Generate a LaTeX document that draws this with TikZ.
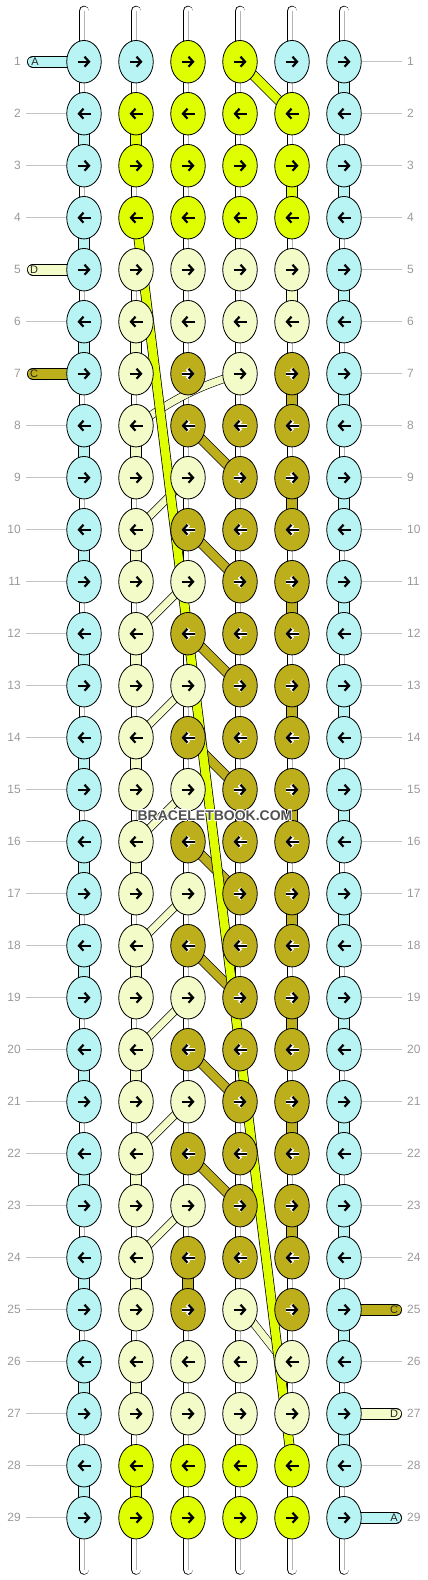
\documentclass[tikz,border=0pt]{standalone}
\usepackage{fontspec}
\setmainfont{Liberation Sans}
\usepackage{contour}
\contourlength{0.7pt}
\usepackage{tikz}
\usetikzlibrary{arrows.meta,shapes.geometric,backgrounds}
\definecolor{strA}{HTML}{B9F4F4}
\definecolor{strB}{HTML}{DFFF00}
\definecolor{strC}{HTML}{BDAF1B}
\definecolor{strD}{HTML}{F3FCC9}
\definecolor{lblGray}{HTML}{9A9A9A}
\definecolor{guideGray}{HTML}{C4C4C4}
\definecolor{pairGray}{HTML}{B4B4B4}
\definecolor{markGray}{HTML}{505050}
\tikzset{
  knot/.style={draw, ellipse, line width=0.8pt, minimum width=34.5pt,
               minimum height=42.5pt, inner sep=0pt},
  strand/.style={draw=black, line width=0.8pt, double=#1, double distance=10.4pt},
  twostrand/.style={draw=black, line width=0.8pt, double=white, double distance=9pt},
  pairmid/.style={draw=pairGray, line width=0.8pt},
  diagstrand/.style={draw=black, line width=0.7pt, double=#1, double distance=8.6pt},
  paleslant/.style={draw=black, line width=0.6pt, double=strD, double distance=7pt},
  arrowbody/.style={line width=2.2pt, -{Straight Barb[length=4.5pt,width=10pt]}},
  arrowhalo/.style={line width=4pt, -{Straight Barb[length=4.5pt,width=10pt]}},
  haloA/.style={draw=strA}, haloB/.style={draw=strB},
  haloC/.style={draw=white}, haloD/.style={draw=strD},
  rowlbl/.style={font=\fontsize{12}{12}\selectfont, text=lblGray, inner sep=0pt},
  guideline/.style={draw=guideGray, line width=0.8pt},
  taillbl/.style={font=\fontsize{11}{11}\selectfont, text=black!85, inner sep=0pt},
}

\begin{document}
\begin{tikzpicture}[x=1pt, y=-1pt]
\useasboundingbox (0,0) rectangle (428,1580);

%% Knots, row by row (odd rows point right, even rows left)
\foreach \r/\knots in {
  1/{A,A,B,B,A,A}, 2/{A,B,B,B,B,A}, 3/{A,B,B,B,B,A}, 4/{A,B,B,B,B,A},
  5/{A,D,D,D,D,A}, 6/{A,D,D,D,D,A}, 7/{A,D,C,D,C,A}, 8/{A,D,C,C,C,A},
  9/{A,D,D,C,C,A}, 10/{A,D,C,C,C,A}, 11/{A,D,D,C,C,A}, 12/{A,D,C,C,C,A},
  13/{A,D,D,C,C,A}, 14/{A,D,C,C,C,A}, 15/{A,D,D,C,C,A}, 16/{A,D,C,C,C,A},
  17/{A,D,D,C,C,A}, 18/{A,D,C,C,C,A}, 19/{A,D,D,C,C,A}, 20/{A,D,C,C,C,A},
  21/{A,D,D,C,C,A}, 22/{A,D,C,C,C,A}, 23/{A,D,D,C,C,A}, 24/{A,D,C,C,C,A},
  25/{A,D,C,D,C,A}, 26/{A,D,D,D,D,A}, 27/{A,D,D,D,D,A}, 28/{A,B,B,B,B,A},
  29/{A,B,B,B,B,A}} {
  \pgfmathsetmacro\ax{6.5*(2*mod(\r,2)-1)}
  \pgfmathsetmacro\bx{-6.5*(2*mod(\r,2)-1)}
  \foreach \s [count=\c] in \knots {
    \node[knot, fill=str\s] (k-\r-\c) at ({32+52*\c}, {9.7+52*\r}) {};
    \draw[arrowhalo, halo\s] ([xshift=\bx pt]k-\r-\c.center) -- ([xshift=\ax pt]k-\r-\c.center);
    \draw[arrowbody] ([xshift=\bx pt]k-\r-\c.center) -- ([xshift=\ax pt]k-\r-\c.center);
  }
}

\begin{scope}[on background layer]
%% Free ends above row 1 and below row 29
\foreach \c in {1,...,6} {
  \coordinate (top-\c) at ({32+52*\c}, 11);
  \coordinate (bot-\c) at ({32+52*\c}, 1569.5);
  \draw[twostrand, line cap=round] (top-\c) -- (k-1-\c.center);
  \draw[pairmid] (top-\c) -- (k-1-\c.center);
  \draw[twostrand, line cap=round] (bot-\c) -- (k-29-\c.center);
  \draw[pairmid] (bot-\c) -- (k-29-\c.center);
}

%% Vertical links (two threads)
\foreach \r in {1,...,28} {
  \pgfmathtruncatemacro\rn{\r+1}
  \foreach \c in {1,...,6} {
    \pgfmathtruncatemacro\code{10*\r+\c}
    \ifnum\code=42 \else\ifnum\code=275 \else
      \draw[twostrand] (k-\r-\c.center) -- (k-\rn-\c.center);
      \draw[pairmid] (k-\r-\c.center) -- (k-\rn-\c.center);
    \fi\fi
  }
}

%% Vertical links (one thread)
\foreach \r [evaluate=\r as \rn using int(\r+1)] in {1,3,...,27}
  \draw[strand=strA] (k-\r-6.center) -- (k-\rn-6.center);
\foreach \r [evaluate=\r as \rn using int(\r+1)] in {2,4,...,28}
  \draw[strand=strA] (k-\r-1.center) -- (k-\rn-1.center);
\foreach \r [evaluate=\r as \rn using int(\r+1)] in {6,8,...,26}
  \draw[strand=strD] (k-\r-2.center) -- (k-\rn-2.center);
\foreach \r [evaluate=\r as \rn using int(\r+1)] in {7,9,...,23}
  \draw[strand=strC] (k-\r-5.center) -- (k-\rn-5.center);
\foreach \r/\c/\s [evaluate=\r as \rn using int(\r+1)] in {2/2/B, 3/5/B, 28/2/B, 5/5/D, 24/3/C}
  \draw[strand=str\s] (k-\r-\c.center) -- (k-\rn-\c.center);

%% Slanted threads
\draw[diagstrand=strB] (k-1-4.center) -- (k-2-5.center);
\draw[paleslant] (k-7-4.center) .. controls +(-40,12) and +(39,-28) .. (k-8-2.center);
\foreach \r [evaluate=\r as \rn using int(\r+1)] in {9,11,...,23}
  \draw[paleslant] (k-\r-3.center) -- (k-\rn-2.center);
\foreach \r [evaluate=\r as \rn using int(\r+1)] in {8,10,...,22}
  \draw[diagstrand=strC] (k-\r-3.center) -- (k-\rn-4.center);
\draw[paleslant] ([xshift=3pt]k-25-4.center) -- ([xshift=-8pt]k-26-5.center);
\draw[diagstrand=strB] (k-4-2.center) -- (k-28-5.center);

%% Horizontal links
\foreach \r in {1,...,29}
  \foreach \c [evaluate=\c as \cn using int(\c+1)] in {1,...,5}
    \draw[strand=strA] (k-\r-\c.center) -- (k-\r-\cn.center);

%% Loose ends at the sides
\coordinate (endA-l) at (33, 61.7);
\coordinate (endD-l) at (33, 269.7);
\coordinate (endC-l) at (33, 373.7);
\coordinate (endC-r) at (396, 1309.7);
\coordinate (endD-r) at (396, 1413.7);
\coordinate (endA-r) at (396, 1517.7);
\draw[strand=strA, line cap=round] (endA-l) -- (k-1-1.center);
\draw[strand=strD, line cap=round] (endD-l) -- (k-5-1.center);
\draw[strand=strC, line cap=round] (endC-l) -- (k-7-1.center);
\draw[strand=strC, line cap=round] (endC-r) -- (k-25-6.center);
\draw[strand=strD, line cap=round] (endD-r) -- (k-27-6.center);
\draw[strand=strA, line cap=round] (endA-r) -- (k-29-6.center);
\end{scope}

%% Row numbers and guide lines
\foreach \r in {1,...,29} {
  \node[rowlbl, anchor=east] (ll-\r) at (21, {9.7+52*\r}) {\r};
  \node[rowlbl, anchor=west] (lr-\r) at (407, {9.7+52*\r}) {\r};
}
\foreach \r in {2,3,4,6,8,9,...,29}
  \draw[guideline] ([xshift=5pt]ll-\r.east) -- (k-\r-1);
\foreach \r in {26,28,1,2,...,24}
  \draw[guideline] (k-\r-6) -- ([xshift=-5pt]lr-\r.west);

\node[taillbl] (tA-l) at (35, 61.7) {A};
\node[taillbl] (tD-l) at (34, 269.7) {D};
\node[taillbl] (tC-l) at (34, 373.7) {C};
\node[taillbl] (tC-r) at (394, 1309.7) {C};
\node[taillbl] (tD-r) at (394, 1413.7) {D};
\node[taillbl] (tA-r) at (394, 1517.7) {A};

\node[font=\fontsize{14}{14}\selectfont\bfseries, text=markGray, inner sep=0pt]
  (mark) at (215, 816) {\contour{white}{BRACELETBOOK.COM}};
\end{tikzpicture}
\end{document}
